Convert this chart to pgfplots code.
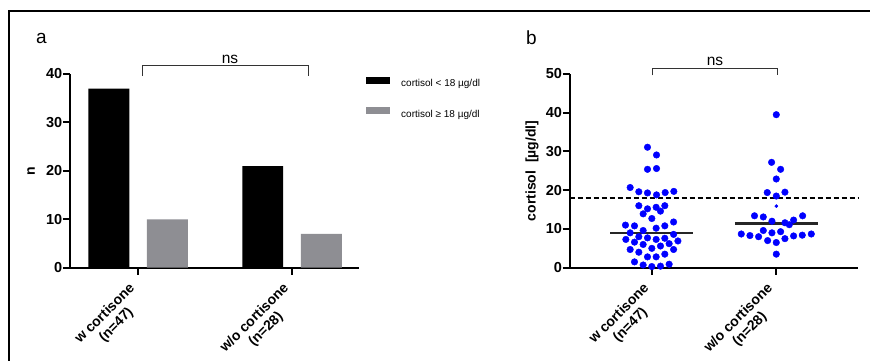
\documentclass[border=0pt]{standalone}
\usepackage{pgfplots}
\pgfplotsset{compat=1.18}
\usepackage{fontspec}
\setmainfont{Liberation Sans}
\definecolor{barGray}{RGB}{142,142,147}
\definecolor{dotBlue}{RGB}{0,0,255}

\pgfplotstableread{
x y
0.962 31.1
1.035 29.1
0.962 25.4
1.035 25.6
0.822 20.7
0.892 19.6
0.962 19.3
1.035 18.8
1.105 19.4
1.175 19.7
0.892 16.0
0.962 15.2
1.032 15.6
1.102 16.0
0.927 13.9
1.067 14.6
0.997 12.7
0.784 11.0
0.857 10.8
1.173 11.8
1.102 10.8
1.032 10.2
0.927 9.6
0.822 9.0
0.892 8.0
0.962 7.7
1.173 8.6
0.787 7.3
0.857 6.6
0.927 6.0
1.032 7.3
1.102 7.6
1.208 6.9
0.997 5.0
1.067 5.6
1.137 6.2
0.822 4.7
0.892 4.0
1.173 4.7
1.102 3.5
0.962 2.8
1.032 2.8
0.857 1.5
0.927 0.7
0.997 0.3
1.067 0.4
1.137 0.9
}\groupA

\pgfplotstableread{
x y
2.003 39.5
1.965 27.2
2.038 25.4
2.003 22.9
1.930 19.4
2.073 19.5
2.003 18.5
1.827 13.4
1.898 13.1
2.216 13.4
1.968 12.0
2.073 11.6
2.108 11.1
2.143 12.3
1.720 8.7
1.790 8.3
1.860 8.0
1.898 9.6
1.968 9.0
2.038 9.3
1.933 7.0
2.003 6.5
2.073 7.5
2.143 8.2
2.213 8.4
2.286 8.7
2.003 3.5
}\groupB

\begin{document}
\begin{tikzpicture}[x=1pt,y=1pt]
\useasboundingbox (0,0) rectangle (870,360);
\draw[line width=1.2pt] (9,-2) -- (9,349) -- (872,349);

\pgfplotsset{
  myaxis/.style={
    scale only axis,
    axis lines=left,
    axis line style={-, line width=2.2pt},
    tick style={line width=2pt, black},
    major tick length=7pt,
    tick align=outside,
    ymin=0,
    xtick={1,2},
    xticklabels={{w cortisone\\(n=47)},{w/o cortisone\\(n=28)}},
    xticklabel style={xshift=-10pt, yshift=-4pt, rotate=45, anchor=north east, align=center, font=\fontsize{14}{16}\selectfont\bfseries, inner sep=2pt},
    yticklabel style={font=\fontsize{14.5}{16}\selectfont\bfseries, inner sep=0.5pt},
    /pgf/number format/assume math mode=true,
    ylabel style={font=\fontsize{14}{16}\selectfont\bfseries, anchor=center},
    clip=false,
  }
}

\begin{axis}[myaxis,
  at={(70pt,92.3pt)}, anchor=south west,
  width=289pt, height=193.7pt,
  xmin=0.558, xmax=2.435, ymax=40,
  ytick={0,10,20,30,40},
  ylabel={n},
  ylabel style={at={(axis description cs:-0.135,0.5)}},
  legend cell align=left,
  legend style={at={(axis description cs:1.0242,0.872)}, anchor=west,
    draw=none, fill=none, inner sep=0pt, row sep=17pt, column sep=9pt,
    font=\fontsize{10}{11}\selectfont},
]
\addplot[ybar, bar width=0.266, bar shift=0pt, fill=black, draw=none,
  legend image code/.code={\fill[black] (0pt,0pt) rectangle (24pt,7pt);}]
  coordinates {(0.81,37) (1.81,21)};
\addlegendentry{cortisol < 18 µg/dl}
\addplot[ybar, bar width=0.266, bar shift=0pt, fill=barGray, draw=none,
  legend image code/.code={\fill[barGray] (0pt,0pt) rectangle (24pt,7pt);}]
  coordinates {(1.19,10) (2.19,7)};
\addlegendentry{cortisol ≥ 18 µg/dl}
\end{axis}

\begin{axis}[myaxis,
  at={(569.7pt,92.3pt)}, anchor=south west,
  width=288.7pt, height=193.7pt,
  xmin=0.3333, xmax=2.6667, ymax=50,
  ytick={0,10,20,30,40,50},
  ylabel={cortisol\ \ [µg/dl]},
  ylabel style={at={(axis description cs:-0.1306,0.5)}},
]
\addplot[black, line width=1.6pt, dash pattern=on 5pt off 3pt] coordinates {(0.3333,18) (2.675,18)};
\addplot[only marks, mark=*, mark size=3.3pt, color=dotBlue, mark options={draw=none, fill=dotBlue}] table[x=x,y=y] {\groupA};
\addplot[only marks, mark=*, mark size=3.3pt, color=dotBlue, mark options={draw=none, fill=dotBlue}] table[x=x,y=y] {\groupB};
\addplot[only marks, mark=*, mark size=1.6pt, color=dotBlue, mark options={draw=none, fill=dotBlue}] coordinates {(2.003,15.9)};
\addplot[black!85, line width=2.2pt] coordinates {(0.663,9.0) (1.332,9.0)};
\addplot[black!85, line width=2.2pt] coordinates {(1.668,11.4) (2.337,11.4)};
\end{axis}

\draw[line width=0.9pt, black!80] (142.7,284) -- (142.7,294.3) -- (308.3,294.3) -- (308.3,284);
\draw[line width=0.9pt, black!80] (652.7,284.7) -- (652.7,291.7) -- (777.3,291.7) -- (777.3,284.7);
\node[anchor=base, font=\fontsize{15.5}{17}\selectfont, inner sep=0pt] at (230,296.7) {ns};
\node[anchor=base, font=\fontsize{15.5}{17}\selectfont, inner sep=0pt] at (715,295) {ns};
\node[anchor=base west, font=\fontsize{19}{21}\selectfont, inner sep=0pt] at (36,316.5) {a};
\node[anchor=base west, font=\fontsize{19}{21}\selectfont, inner sep=0pt] at (526,315.5) {b};
\end{tikzpicture}
\end{document}
